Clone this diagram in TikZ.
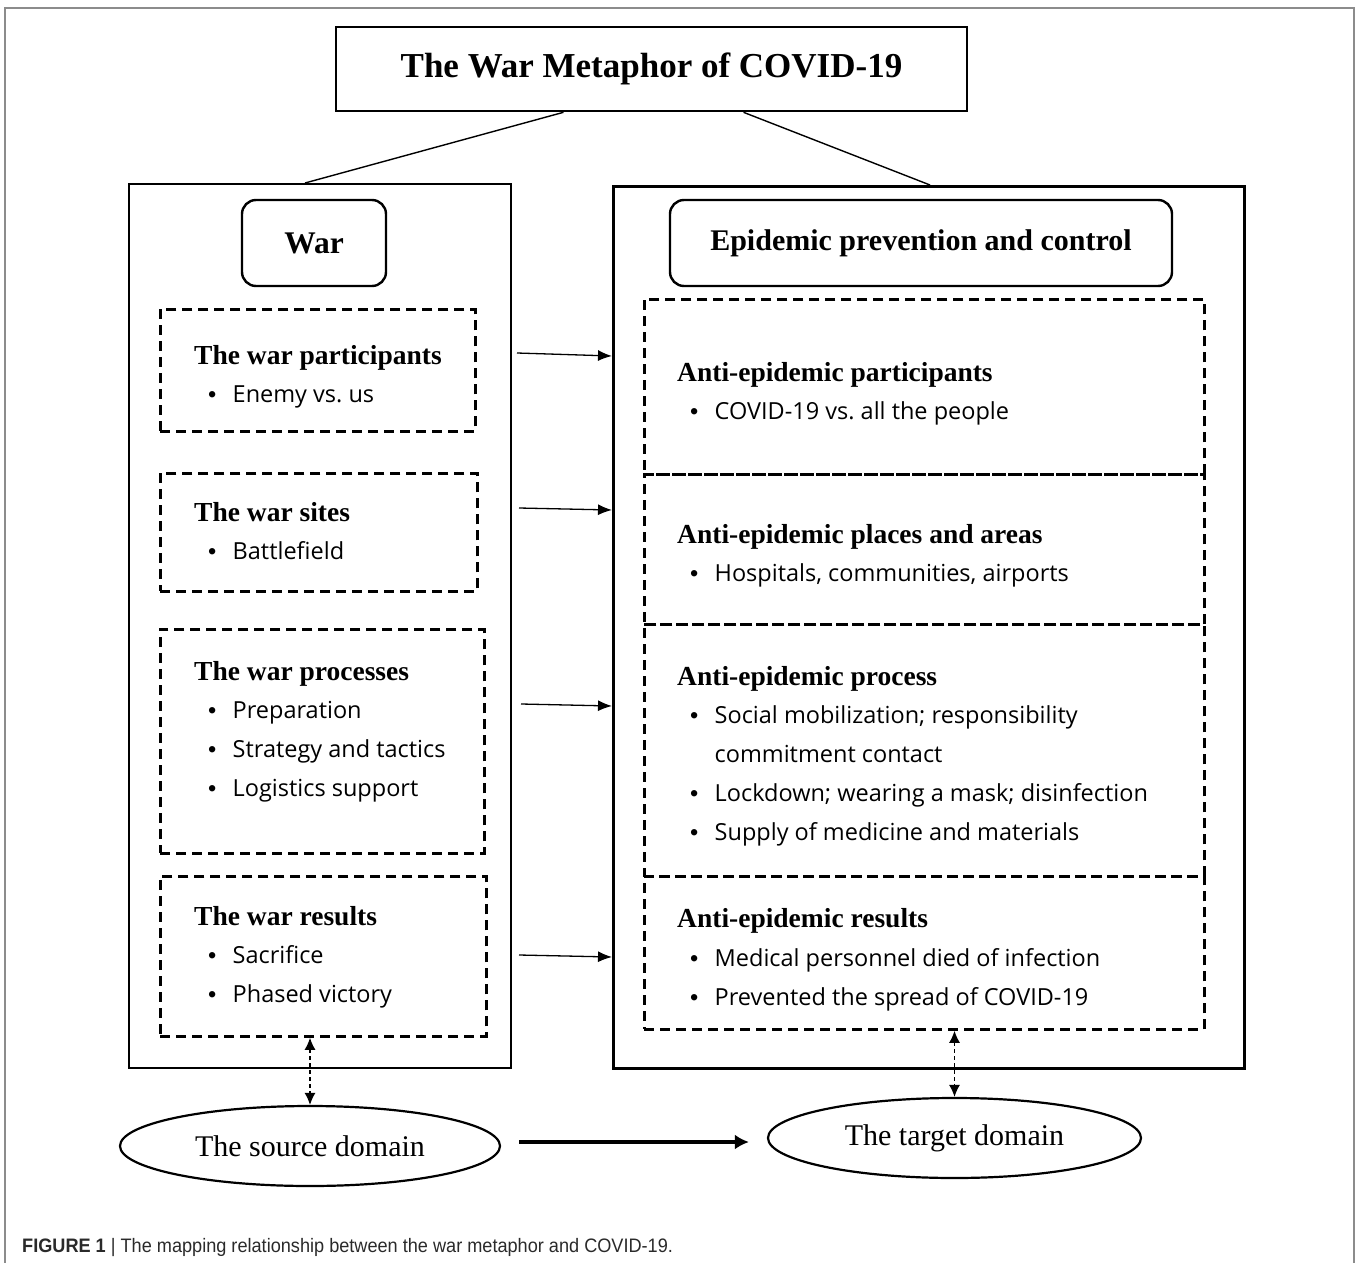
\documentclass[tikz,border=0pt]{standalone}
\usepackage{fontspec}
\setmainfont{Liberation Serif}
\newfontfamily\listfont{Open Sans}
\newfontfamily\dotfont{Liberation Sans}
\newfontfamily\capfont[FakeStretch=0.93]{Liberation Sans}
\usetikzlibrary{arrows.meta,positioning,shapes.geometric,calc}
\definecolor{FrameGray}{HTML}{8C8C8C}
\definecolor{CapText}{HTML}{2A2A2A}
\newcommand{\bl}{\makebox[24.5pt][l]{\dotfont\textbullet}}
\newcommand{\cont}{\hspace*{24.5pt}}
\newcommand{\bllist}[1]{{\listfont\fontsize{23.5}{39.2}\selectfont\begin{tabular}[t]{@{}l@{}}#1\end{tabular}}}

\begin{document}
\begin{tikzpicture}[
  x=1pt,y=-1pt,
  titlebox/.style={draw,line width=2.6pt,minimum width=631,minimum height=84,inner sep=0,font=\fontsize{35}{40}\selectfont\bfseries},
  domainframe/.style={draw,line width=2pt,anchor=north west,inner sep=0},
  domainhead/.style={draw,line width=2.4pt,rounded corners=14pt,minimum height=86,inner sep=0,font=\fontsize{30}{34}\selectfont\bfseries},
  partbox/.style={draw,line width=2.8pt,dash pattern=on 10pt off 6pt,anchor=north west,inner sep=0},
  heading/.style={anchor=base west,inner sep=0,font=\fontsize{27.5}{30}\selectfont\bfseries},
  itemlist/.style={anchor=base west,inner sep=0},
  domainoval/.style={draw,ellipse,line width=2.2pt,inner sep=0,font=\fontsize{30}{34}\selectfont},
  maparrow/.style={-{Latex[length=14pt,width=11pt]},line width=1.3pt},
  linkarrow/.style={{Latex[length=12pt,width=11pt]}-{Latex[length=12pt,width=11pt]},line width=1.3pt,dash pattern=on 4pt off 3pt},
  bigarrow/.style={-{Latex[length=14pt,width=15pt]},line width=4pt}
]
\useasboundingbox (0,0) rectangle (1358,1263);
% outer figure frame
\draw[FrameGray,line width=1.3pt] (5,1266) -- (5,8) -- (1354,8) -- (1354,1266);

% title and the two domains
\node[titlebox] (title) at (651.5,69) {The War Metaphor of COVID-19};
\node[domainframe,minimum width=382,minimum height=884] (war) at (128,183) {};
\node[domainframe,line width=2.8pt,minimum width=631,minimum height=882] (epi) at (612,185) {};
\draw[line width=1.4pt] (title.south) ++(-88,0) coordinate (tl) -- (305,183) coordinate (wl);
\draw[line width=1.4pt] (title.south) ++(92,0) coordinate (tr) -- (930,185) coordinate (er);
\node[domainhead,minimum width=144,font=\fontsize{31.5}{34}\selectfont\bfseries] (warhd) at (314,243) {\raisebox{-4pt}{War}};
\node[domainhead,minimum width=502] (epihd) at (921,243) {Epidemic prevention and control};

% war side
\node[partbox,minimum width=315,minimum height=122] (wparts) at (159,308) {};
\node[heading] (wpartshd) at (194,364) {The war participants};
\node[itemlist] (wpartsit) at (208,402) {\bllist{\bl Enemy vs.\ us}};

\node[partbox,minimum width=317,minimum height=118] (wsites) at (159,472) {};
\node[heading] (wsiteshd) at (194,521) {The war sites};
\node[itemlist] (wsitesit) at (208,559) {\bllist{\bl Battlefield}};

\node[partbox,minimum width=324,minimum height=224] (wproc) at (159,628) {};
\node[heading] (wprochd) at (194,680) {The war processes};
\node[itemlist] (wprocit) at (208,718) {\bllist{\bl Preparation\\ \bl Strategy and tactics\\ \bl Logistics support}};

\node[partbox,minimum width=326,minimum height=160] (wres) at (159,875) {};
\node[heading] (wreshd) at (194,925) {The war results};
\node[itemlist] (wresit) at (208,963) {\bllist{\bl Sacrifice\\ \bl Phased victory}};

% epidemic side
\node[partbox,minimum width=560,minimum height=175] (eparts) at (643,298) {};
\node[heading] (epartshd) at (677,381) {Anti-epidemic participants};
\node[itemlist] (epartsit) at (690,419) {\bllist{\bl COVID-19 vs.\ all the people}};

\node[partbox,minimum width=560,minimum height=150] (esites) at (643,473) {};
\node[heading] (esiteshd) at (677,543) {Anti-epidemic places and areas};
\node[itemlist] (esitesit) at (690,581) {\bllist{\bl Hospitals, communities, airports}};

\node[partbox,minimum width=560,minimum height=252] (eproc) at (643,623) {};
\node[heading] (eprochd) at (677,685) {Anti-epidemic process};
\node[itemlist] (eprocit) at (690,723) {\bllist{\bl Social mobilization; responsibility\\ \cont commitment contact\\ \bl Lockdown; wearing a mask; disinfection\\ \bl Supply of medicine and materials}};

\node[partbox,minimum width=560,minimum height=153] (eres) at (643,875) {};
\node[heading] (ereshd) at (677,927) {Anti-epidemic results};
\node[itemlist] (eresit) at (690,966) {\bllist{\bl Medical personnel died of infection\\ \bl Prevented the spread of COVID-19}};

% mappings
\draw[maparrow] ([xshift=5]war.east |- 0,353) -- (epi.west |- 0,356);
\draw[maparrow] ([xshift=7]war.east |- 0,508) -- (epi.west |- 0,510);
\draw[maparrow] ([xshift=9]war.east |- 0,704) -- (epi.west |- 0,706);
\draw[maparrow] ([xshift=7]war.east |- 0,955) -- (epi.west |- 0,957);

% source and target
\node[domainoval,minimum width=380,minimum height=80] (source) at (310,1146) {The source domain};
\node[domainoval,minimum width=373,minimum height=80] (target) at (954.5,1138) {The target domain};
\draw[linkarrow] (wres.south -| source.north) -- (source.north);
\draw[linkarrow] (eres.south -| target.north) -- (target.north);
\draw[bigarrow] ([xshift=18]source.east |- 0,1142) -- ([xshift=-18]target.west |- 0,1142);

% caption
\node[anchor=base west,inner sep=0,text=CapText,font=\capfont\fontsize{19.5}{22}\selectfont] (caption) at (22,1252) {\textbf{FIGURE 1} \textbar\ The mapping relationship between the war metaphor and COVID-19.};
\end{tikzpicture}
\end{document}
